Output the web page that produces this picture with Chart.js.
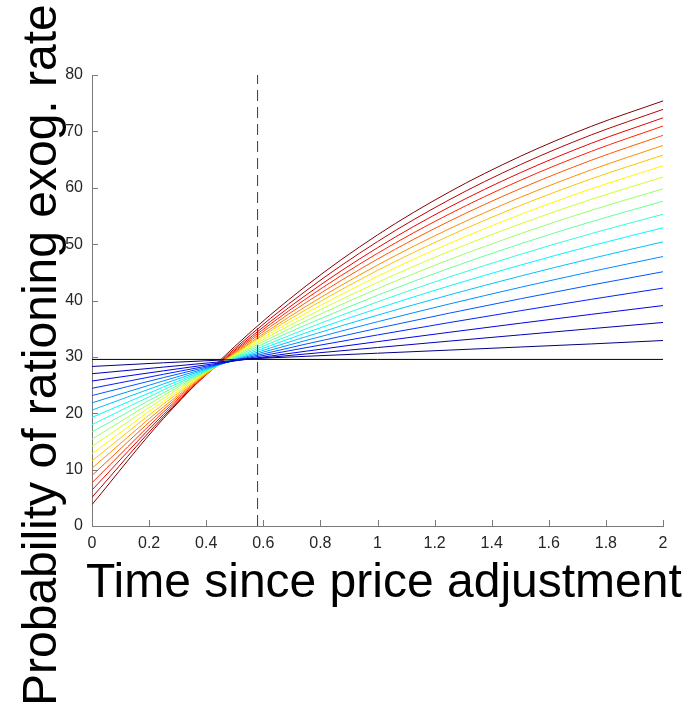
<!DOCTYPE html>
<html>
<head>
<meta charset="utf-8">
<script src="https://cdn.jsdelivr.net/npm/chart.js@4/dist/chart.umd.min.js"></script>
<style>
  body { margin: 0; background: #fff; }
  #wrap { width: 690px; height: 702px; }
</style>
</head>
<body>
<div id="wrap"><canvas id="chart" width="690" height="702"></canvas></div>
<script>
'use strict';

// time grid (x) shared by all curves
var timePoints = [0, 0.25, 0.5, 0.75, 1, 1.25, 1.5, 1.75, 2];

// one curve per exog. rate, blue (low) -> red (high)
var rate01 = [28.3, 28.95, 29.55, 30.1, 30.65, 31.2, 31.75, 32.3, 32.9];
var rate02 = [27.01, 28.19, 29.36, 30.52, 31.66, 32.79, 33.9, 35.01, 36.1];
var rate03 = [25.72, 27.52, 29.29, 31.01, 32.7, 34.35, 35.97, 37.55, 39.1];
var rate04 = [24.43, 26.91, 29.31, 31.64, 33.89, 36.07, 38.18, 40.22, 42.2];
var rate05 = [23.14, 26.32, 29.36, 32.28, 35.07, 37.74, 40.3, 42.75, 45.1];
var rate06 = [21.85, 25.74, 29.43, 32.92, 36.23, 39.36, 42.33, 45.14, 47.8];
var rate07 = [20.56, 25.19, 29.52, 33.59, 37.4, 40.97, 44.32, 47.46, 50.4];
var rate08 = [19.27, 24.65, 29.64, 34.28, 38.58, 42.57, 46.27, 49.71, 52.9];
var rate09 = [17.98, 24.13, 29.78, 34.98, 39.75, 44.14, 48.18, 51.89, 55.3];
var rate10 = [16.69, 23.62, 29.94, 35.69, 40.93, 45.7, 50.04, 54.0, 57.6];
var rate11 = [15.41, 23.13, 30.11, 36.4, 42.09, 47.21, 51.84, 56.02, 59.8];
var rate12 = [14.12, 22.64, 30.26, 37.09, 43.2, 48.68, 53.58, 57.97, 61.9];
var rate13 = [12.83, 22.13, 30.4, 37.75, 44.28, 50.08, 55.24, 59.83, 63.9];
var rate14 = [11.54, 21.63, 30.54, 38.39, 45.33, 51.44, 56.84, 61.6, 65.8];
var rate15 = [10.25, 21.12, 30.63, 38.97, 46.28, 52.68, 58.29, 63.2, 67.5];
var rate16 = [8.96, 20.65, 30.81, 39.65, 47.34, 54.03, 59.84, 64.9, 69.3];
var rate17 = [7.67, 20.19, 30.99, 40.32, 48.37, 55.31, 61.31, 66.48, 70.95];
var rate18 = [6.38, 19.75, 31.19, 40.98, 49.36, 56.53, 62.66, 67.91, 72.4];
var rate19 = [5.09, 19.37, 31.48, 41.74, 50.45, 57.83, 64.09, 69.4, 73.9];
var rate20 = [3.8, 19.05, 31.85, 42.6, 51.63, 59.21, 65.57, 70.92, 75.4];
var curves = [rate01, rate02, rate03, rate04, rate05, rate06, rate07, rate08, rate09, rate10,
              rate11, rate12, rate13, rate14, rate15, rate16, rate17, rate18, rate19, rate20];

// reference lines
var flatLevel = 29.55;     // black horizontal line
var markTime = 0.58;       // dashed vertical line
var xRange = [0, 2];
var yRange = [0, 80];

var xLabel = 'Time since price adjustment';
var yLabel = 'Probability of rationing exog. rate';

var axisColor = '#7a7a7a';
var tickTextColor = '#262626';

// matlab style jet colormap
function jet(v) {
	function clamp(a) { return Math.max(0, Math.min(1, a)); }
	var r = clamp(1.5 - Math.abs(4 * v - 3));
	var g = clamp(1.5 - Math.abs(4 * v - 2));
	var b = clamp(1.5 - Math.abs(4 * v - 1));
	return 'rgb(' + Math.round(r * 255) + ',' + Math.round(g * 255) + ',' + Math.round(b * 255) + ')';
}

var datasets = [];

// dashed marker on top
datasets.push({
	data: [{x: markTime, y: yRange[0]}, {x: markTime, y: yRange[1]}],
	borderColor: '#3a3a3a',
	borderWidth: 1,
	borderDash: [11, 6],
	pointRadius: 0,
	order: 0
});

for (var k = 0; k < curves.length; k++) {
	var pts = [];
	for (var i = 0; i < timePoints.length; i++) {
		pts.push({x: timePoints[i], y: curves[k][i]});
	}
	datasets.push({
		data: pts,
		borderColor: jet(k / (curves.length - 1)),
		borderWidth: 1,
		pointRadius: 0,
		cubicInterpolationMode: 'monotone',
		order: 1
	});
}

datasets.push({
	data: [{x: xRange[0], y: flatLevel}, {x: xRange[1], y: flatLevel}],
	borderColor: '#000',
	borderWidth: 1,
	pointRadius: 0,
	order: 2
});

// inward ticks + big axis titles
var matlabAxes = {
	id: 'matlabAxes',
	afterDraw: function(chart) {
		var ctx = chart.ctx;
		var area = chart.chartArea;
		var xs = chart.scales.x;
		var ys = chart.scales.y;
		ctx.save();
		ctx.strokeStyle = axisColor;
		ctx.lineWidth = 1;
		ctx.beginPath();
		ys.ticks.forEach(function(t) {
			var py = Math.round(ys.getPixelForValue(t.value)) + 0.5;
			ctx.moveTo(area.left, py);
			ctx.lineTo(area.left + 6, py);
		});
		xs.ticks.forEach(function(t) {
			var px = Math.round(xs.getPixelForValue(t.value)) + 0.5;
			ctx.moveTo(px, area.bottom);
			ctx.lineTo(px, area.bottom - 6);
		});
		ctx.stroke();

		ctx.fillStyle = '#000';
		ctx.font = '48px "Liberation Sans", Arial, Helvetica, sans-serif';
		ctx.textAlign = 'left';
		ctx.textBaseline = 'alphabetic';
		ctx.fillText(xLabel, 86, 597);

		ctx.translate(56, 706);
		ctx.rotate(-Math.PI / 2);
		ctx.fillText(yLabel, 0, 0);
		ctx.restore();
	}
};

window.onload = function() {
	var ctx = document.getElementById('chart');
	new Chart(ctx, {
		type: 'line',
		data: { datasets: datasets },
		options: {
			responsive: false,
			animation: false,
			devicePixelRatio: 1,
			layout: { padding: { left: 0, top: 75, right: 27, bottom: 0 } },
			plugins: { legend: { display: false }, tooltip: { enabled: false } },
			scales: {
				x: {
					type: 'linear',
					min: xRange[0],
					max: xRange[1],
					afterFit: function(s) { s.height = 176; },
					border: { display: true, color: axisColor, width: 1 },
					grid: { display: true, drawOnChartArea: false, drawTicks: false },
					ticks: {
						stepSize: 0.2,
						autoSkip: false,
						maxRotation: 0,
						padding: 8,
						color: tickTextColor,
						font: { family: '"Liberation Sans", Arial, sans-serif', size: 16 },
						callback: function(v) { return String(Math.round(v * 10) / 10); }
					}
				},
				y: {
					type: 'linear',
					min: yRange[0],
					max: yRange[1],
					afterFit: function(s) { s.width = 92; },
					border: { display: true, color: axisColor, width: 1 },
					grid: { display: true, drawOnChartArea: false, drawTicks: false },
					ticks: {
						stepSize: 10,
						padding: 9,
						color: tickTextColor,
						font: { family: '"Liberation Sans", Arial, sans-serif', size: 16 }
					}
				}
			}
		},
		plugins: [matlabAxes]
	});
};
</script>
</body>
</html>
